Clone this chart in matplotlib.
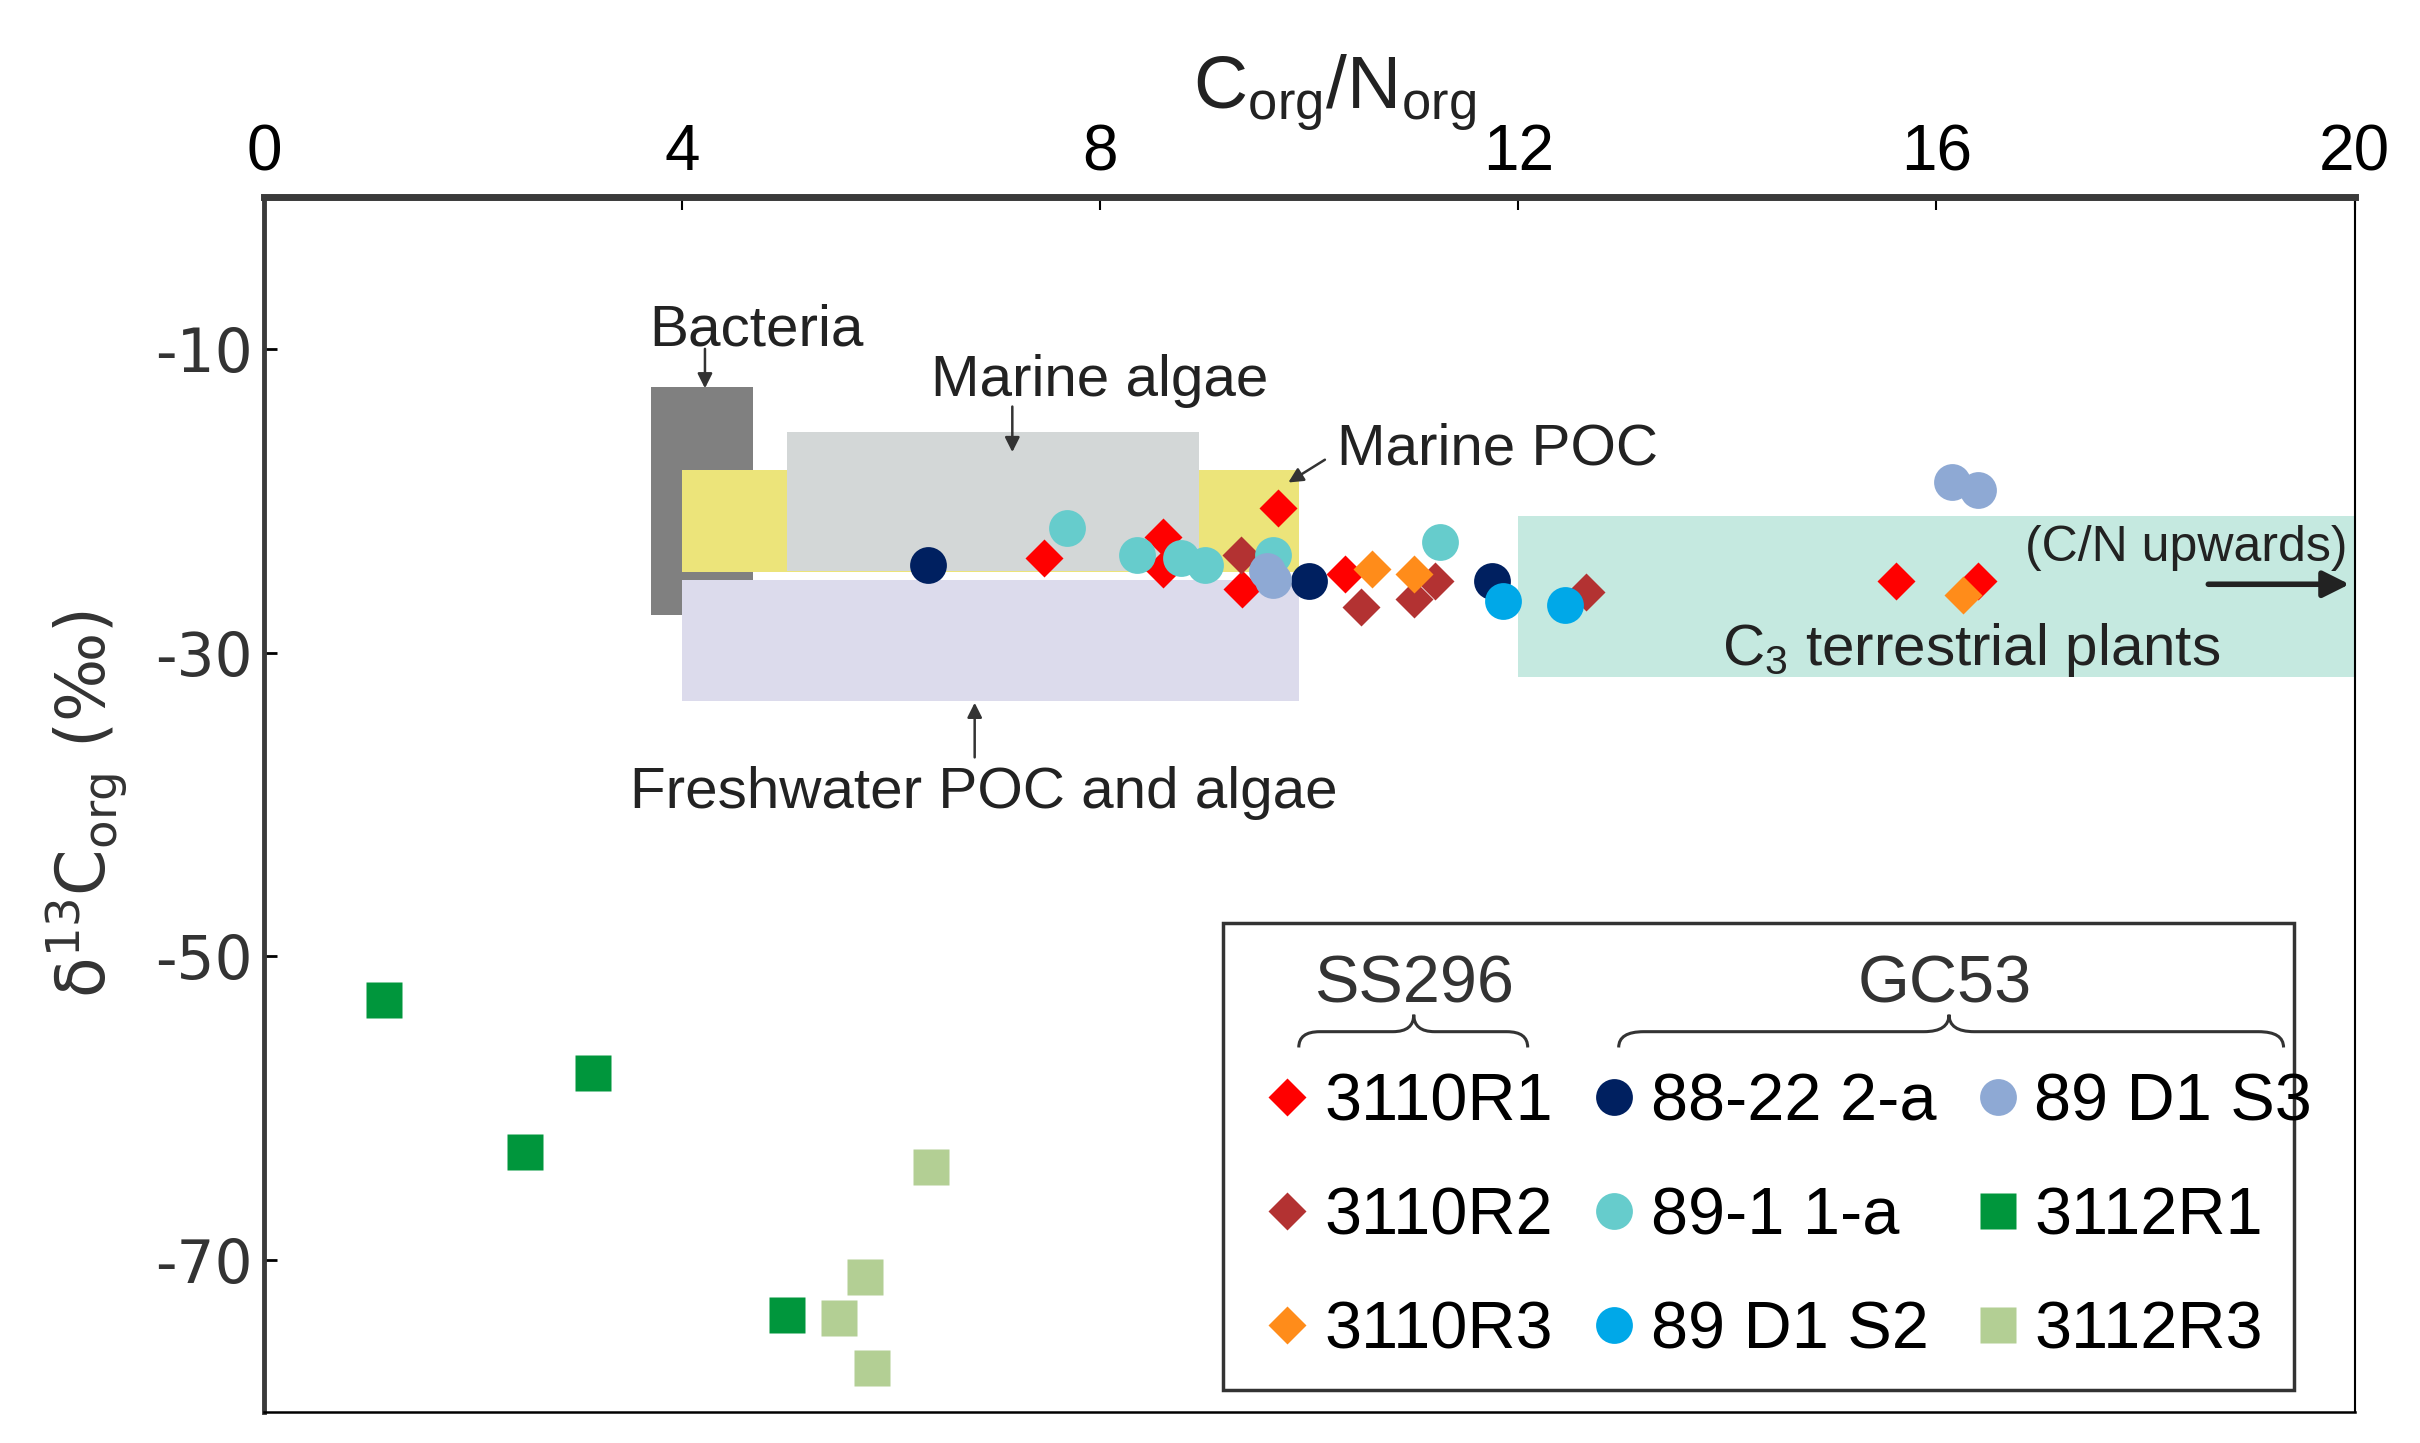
import numpy as np
import matplotlib.pyplot as plt
from matplotlib.patches import Rectangle, PathPatch
from matplotlib.path import Path

plt.rcParams['font.family'] = ['Liberation Sans', 'DejaVu Sans']
plt.rcParams['mathtext.fontset'] = 'custom'
plt.rcParams['mathtext.rm'] = 'Liberation Sans'
plt.rcParams['mathtext.it'] = 'Liberation Sans:italic'
plt.rcParams['axes.unicode_minus'] = False

# ---- data: C/N (x) and d13C (y) per sample ----
r1_x = [7.46, 8.6, 8.6, 9.7, 9.36, 10.34, 15.61, 16.4]
r1_y = [-23.8, -22.4, -24.5, -20.5, -25.8, -24.8, -25.3, -25.3]
r2_x = [9.35, 10.5, 11.0, 11.2, 12.65]
r2_y = [-23.6, -27.0, -26.5, -25.3, -26.0]
r3_x = [10.6, 11.0, 16.25]
r3_y = [-24.5, -24.8, -26.2]
a88_x = [6.35, 10.0, 11.75]
a88_y = [-24.2, -25.3, -25.3]
a89_x = [7.68, 8.35, 8.77, 9.0, 9.65, 11.25]
a89_y = [-21.8, -23.6, -23.8, -24.2, -23.6, -22.7]
s2_x = [11.85, 12.45]
s2_y = [-26.6, -26.85]
s3_x = [9.6, 9.65, 16.15, 16.4]
s3_y = [-24.6, -25.2, -18.8, -19.3]
g1_x = [1.15, 3.15, 2.5, 5.0]
g1_y = [-52.9, -57.7, -62.9, -73.6]
g3_x = [6.38, 5.75, 5.5, 5.82]
g3_y = [-63.9, -71.1, -73.8, -77.1]

# source fields: (x0, x1, y0, y1)
box_names = ['Bacteria', 'Marine POC', 'Freshwater', 'Marine algae', 'C3']
box_x = [(3.7, 4.68), (4.0, 9.9), (4.0, 9.9), (5.0, 8.95), (12.0, 20.0)]
box_y = [(-12.5, -27.5), (-18.0, -24.7), (-25.2, -33.2), (-15.5, -24.6), (-21.0, -31.6)]
box_col = ['#808080', '#ECE47A', '#DCDBEC', '#D3D7D7', '#C5E9E0']

fig = plt.figure(figsize=(24.2, 14.43), dpi=100)
ax = fig.add_axes([0.109, 0.0215, 0.864, 0.842])

for i in range(len(box_names)):
    x0, x1 = box_x[i]
    y0, y1 = box_y[i]
    ax.add_patch(Rectangle((x0, min(y0, y1)), x1 - x0, abs(y1 - y0),
                           facecolor=box_col[i], edgecolor='none', zorder=1 + i * 0.1))

ms_d = 19.5
ms_o = 26.5
ms_s = 26
h = []
h.append(ax.plot(r1_x, r1_y, 'D', ms=ms_d, color='#FF0000', mec='none', label='3110R1', zorder=5)[0])
h.append(ax.plot(r2_x, r2_y, 'D', ms=ms_d, color='#B33232', mec='none', label='3110R2', zorder=5)[0])
h.append(ax.plot(r3_x, r3_y, 'D', ms=ms_d, color='#FF8C1A', mec='none', label='3110R3', zorder=5)[0])
h.append(ax.plot(a88_x, a88_y, 'o', ms=ms_o, color='#002060', mec='none', label='88-22 2-a', zorder=5)[0])
h.append(ax.plot(a89_x, a89_y, 'o', ms=ms_o, color='#66CCCC', mec='none', label='89-1 1-a', zorder=5)[0])
h.append(ax.plot(s2_x, s2_y, 'o', ms=ms_o, color='#00A8E8', mec='none', label='89 D1 S2', zorder=5)[0])
h.append(ax.plot(s3_x, s3_y, 'o', ms=ms_o, color='#8EA9D4', mec='none', label='89 D1 S3', zorder=5)[0])
h.append(ax.plot(g1_x, g1_y, 's', ms=ms_s, color='#00963C', mec='none', label='3112R1', zorder=5)[0])
h.append(ax.plot(g3_x, g3_y, 's', ms=ms_s, color='#B3CF94', mec='none', label='3112R3', zorder=5)[0])

ax.set_xlim(0, 20)
ax.set_ylim(-80, 0)
ax.set_xticks([0, 4, 8, 12, 16, 20])
ax.set_yticks([-10, -30, -50, -70])
ax.xaxis.tick_top()
ax.xaxis.set_label_position('top')
ax.tick_params(axis='x', direction='in', length=9, width=1.5, pad=10, labelsize=46)
ax.tick_params(axis='y', direction='in', length=9, width=2, pad=8, labelsize=43)
for lab in ax.get_yticklabels():
    lab.set_family('DejaVu Sans')
    lab.set_color('#333333')
ax.spines['top'].set_linewidth(5)
ax.spines['top'].set_color('#3a3a3a')
ax.spines['left'].set_linewidth(3.5)
ax.spines['left'].set_color('#3a3a3a')
ax.spines['right'].set_linewidth(1.5)
ax.spines['bottom'].set_linewidth(1.8)

ax.set_xlabel(r'C$_{\rm org}$/N$_{\rm org}$', fontsize=54, color='#222222')
ax.xaxis.set_label_coords(0.512, 1.072)
ax.set_ylabel('δ$^{13}$C$_{\\rm org}$ (‰)', fontsize=48, family='DejaVu Sans',
              math_fontfamily='dejavusans', labelpad=18, color='#333333')

# annotations
tk = dict(fontsize=42, color='#222222', zorder=6)
ar = dict(arrowstyle='-|>', color='#333333', lw=1.8, mutation_scale=22, shrinkA=0, shrinkB=0)
ax.text(3.69, -9.8, 'Bacteria', ha='left', va='baseline', **tk)
ax.annotate('', xy=(4.22, -12.6), xytext=(4.22, -10.0), arrowprops=ar, zorder=6)
ax.text(8.0, -13.1, 'Marine algae', ha='center', va='baseline', **tk)
ax.annotate('', xy=(7.16, -16.8), xytext=(7.16, -13.8), arrowprops=ar, zorder=6)
ax.text(10.27, -17.6, 'Marine POC', ha='left', va='baseline', **tk)
ax.annotate('', xy=(9.8, -18.8), xytext=(10.15, -17.3), arrowprops=ar, zorder=6)
ax.text(6.89, -40.2, 'Freshwater POC and algae', ha='center', va='baseline', **tk)
ax.annotate('', xy=(6.8, -33.3), xytext=(6.8, -36.9), arrowprops=ar, zorder=6)
ax.text(19.93, -24.0, '(C/N upwards)', ha='right', va='baseline', fontsize=36, color='#222222', zorder=6)
ax.annotate('', xy=(19.95, -25.5), xytext=(18.6, -25.5),
            arrowprops=dict(arrowstyle='-|>', color='#222222', lw=4, mutation_scale=40,
                            shrinkA=0, shrinkB=0), zorder=6)
ax.text(13.95, -30.8, r'C$_{3}$ terrestrial plants', ha='left', va='baseline', **tk)

# legend
leg = ax.legend(handles=h, ncol=3, loc='upper left',
                bbox_to_anchor=(0.48, 0.2795), frameon=False, fontsize=48,
                handlelength=0.6, handletextpad=0.25, columnspacing=0.62,
                labelspacing=0.78, borderpad=0, borderaxespad=0, numpoints=1)
leg.set_zorder(8)
ax.add_patch(Rectangle((0.459, 0.018), 0.5118, 0.3845, transform=ax.transAxes,
                       facecolor='white', edgecolor='#333333', lw=2.5, zorder=7))
ax.text(0.55, 0.3374, 'SS296', transform=ax.transAxes, ha='center', va='baseline',
        fontsize=48, color='#333333', zorder=8)
ax.text(0.804, 0.3374, 'GC53', transform=ax.transAxes, ha='center', va='baseline',
        fontsize=48, color='#333333', zorder=8)


def brace(x0, x1, xm, yl, ym, yt, dx):
    verts = [(x0, yl), (x0, ym), (x0 + dx, ym), (xm - dx, ym), (xm, ym), (xm, yt),
             (xm, ym), (xm + dx, ym), (x1 - dx, ym), (x1, ym), (x1, yl)]
    codes = [Path.MOVETO, Path.CURVE3, Path.CURVE3, Path.LINETO, Path.CURVE3, Path.CURVE3,
             Path.CURVE3, Path.CURVE3, Path.LINETO, Path.CURVE3, Path.CURVE3]
    ax.add_patch(PathPatch(Path(verts, codes), facecolor='none', edgecolor='#333333',
                           lw=2.2, transform=ax.transAxes, zorder=8))


brace(0.495, 0.6045, 0.55, 0.300, 0.313, 0.327, 0.01)
brace(0.648, 0.966, 0.806, 0.300, 0.313, 0.327, 0.012)

fig.savefig('out.png', dpi=100)
